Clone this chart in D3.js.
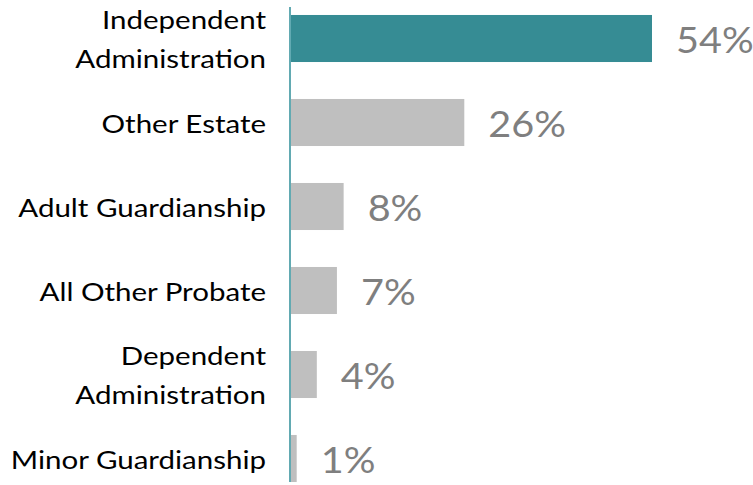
<!DOCTYPE html>
<html>
<head>
<meta charset="utf-8">
<script src="https://cdn.jsdelivr.net/npm/d3@7"></script>
<style>
  html, body { margin: 0; padding: 0; background: #fff; }
  svg { display: block; }
</style>
</head>
<body>
<svg id="chart" width="753" height="485"></svg>
<script>
// Probate case mix, share of filings by case type
const categories = [
  ["Independent", "Administration"],
  ["Other Estate"],
  ["Adult Guardianship"],
  ["All Other Probate"],
  ["Dependent", "Administration"],
  ["Minor Guardianship"]
];
const shares = [54, 26, 8, 7, 4, 1];
const highlight = [true, false, false, false, false, false];

const svg = d3.select("#chart");
const axisX = 290;

const x = d3.scaleLinear().domain([0, 54]).range([axisX, 652]);
const y = d3.scaleBand()
  .domain(d3.range(categories.length))
  .range([-3.5, 500.5])
  .paddingInner(0.44)
  .paddingOuter(0.22);

const labelFont = "Lato, 'Open Sans', sans-serif";
const catStretch = 1.18;   // wide set category lettering
const valStretch = 1.1;

// bars
svg.append("g").selectAll("rect")
  .data(shares)
  .join("rect")
  .attr("x", axisX)
  .attr("y", (d, i) => y(i))
  .attr("width", d => x(d) - axisX)
  .attr("height", y.bandwidth())
  .attr("fill", (d, i) => highlight[i] ? "#368c94" : "#bfbfbf");

// value labels
svg.append("g").selectAll("text")
  .data(shares)
  .join("text")
  .attr("transform", (d, i) =>
    `translate(${x(d) + 24},${y(i) + y.bandwidth() / 2 + 14}) scale(${valStretch},1)`)
  .attr("font-family", labelFont)
  .attr("font-size", 36)
  .attr("fill", "#7f7f7f")
  .text(d => d + "%");

// category labels, right aligned against the axis
const cat = svg.append("g").selectAll("text")
  .data(categories)
  .join("text")
  .attr("text-anchor", "end")
  .attr("font-family", labelFont)
  .attr("font-size", 25)
  .attr("fill", "#000")
  .attr("transform", (d, i) =>
    `translate(266,${y(i) + y.bandwidth() / 2 + 10 - (d.length - 1) * 20}) scale(${catStretch},1)`);
cat.selectAll("tspan")
  .data(d => d)
  .join("tspan")
  .attr("x", 0)
  .attr("dy", (d, j) => j === 0 ? 0 : 40)
  .text(d => d);

// vertical axis line
svg.append("line")
  .attr("x1", axisX).attr("x2", axisX)
  .attr("y1", 7).attr("y2", 482)
  .attr("stroke", "#62aab2")
  .attr("stroke-width", 2);
</script>
</body>
</html>
